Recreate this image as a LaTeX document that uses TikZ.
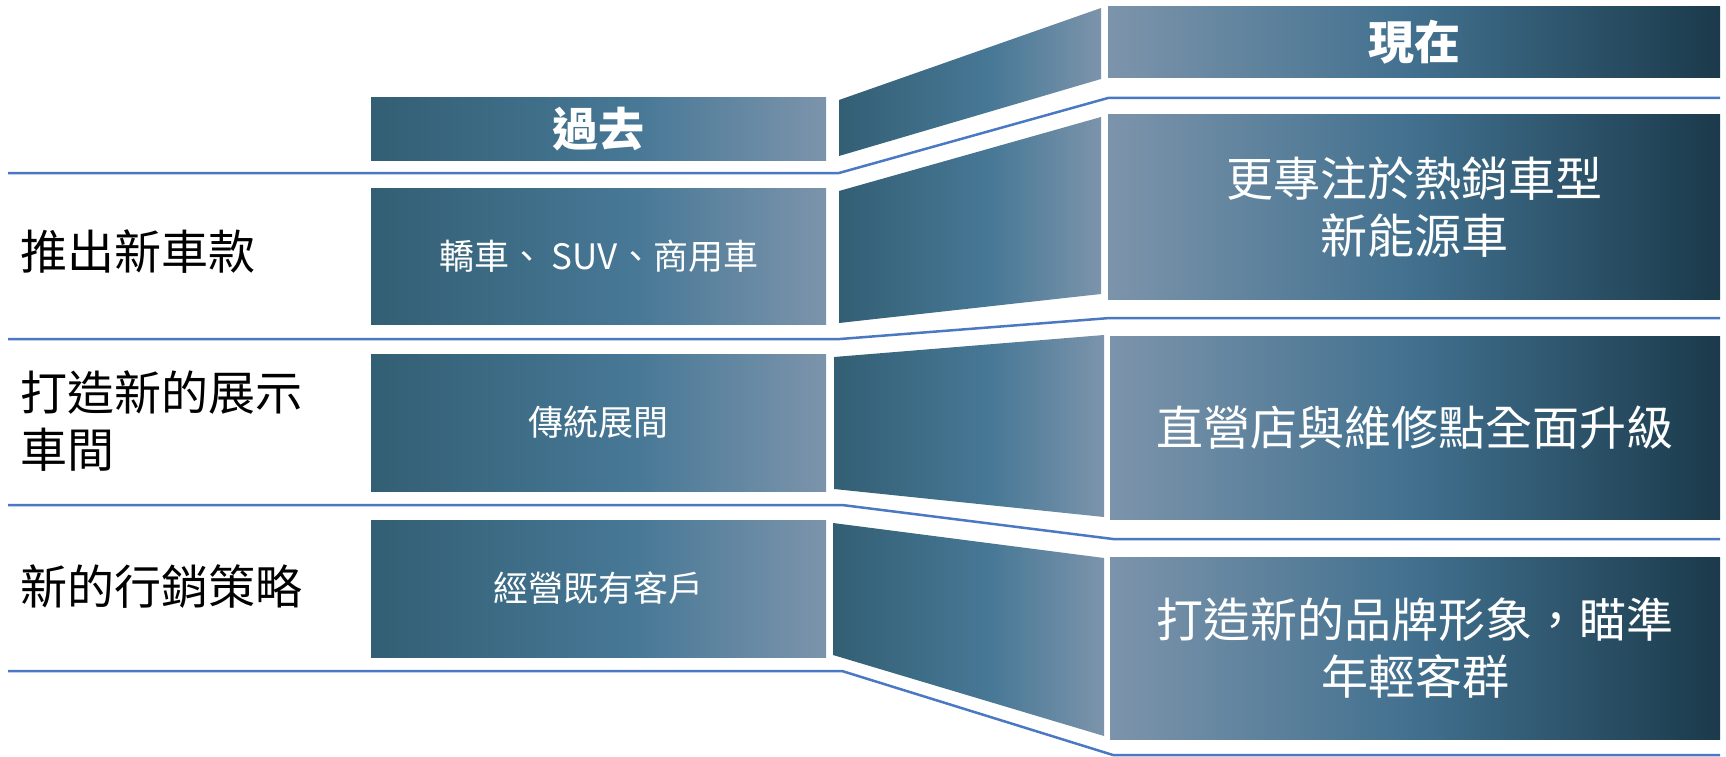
\documentclass[tikz,border=0pt]{standalone}
\usepackage{fontspec}
\setmainfont{Noto Sans CJK TC}
\newfontfamily\cjk{Noto Sans CJK TC}
\definecolor{pdark}{HTML}{335F74}
\definecolor{pmid}{HTML}{477896}
\definecolor{plight}{HTML}{7C94AB}
\definecolor{nmid}{HTML}{41708E}
\definecolor{ndark}{HTML}{1B3A4B}
\definecolor{lineblue}{HTML}{4A78C2}
\pgfdeclarehorizontalshading{pastshade}{100bp}{color(0bp)=(pdark); color(25bp)=(pdark); color(54bp)=(pmid); color(75bp)=(plight); color(100bp)=(plight)}
\pgfdeclarehorizontalshading{nowshade}{100bp}{color(0bp)=(plight); color(25bp)=(plight); color(50bp)=(nmid); color(75bp)=(ndark); color(100bp)=(ndark)}
\begin{document}
\begin{tikzpicture}[x=1pt,y=-1pt,
  pastfill/.style={shade, shading=pastshade},
  nowfill/.style={shade, shading=nowshade},
  box/.style={inner sep=0pt, outer sep=0pt, draw=none, text=white, align=center},
  headtext/.style={font=\cjk\bfseries\fontsize{46}{55}\selectfont},
  smalltext/.style={font=\cjk\fontsize{35}{42}\selectfont},
  bigtext/.style={font=\cjk\fontsize{47}{57}\selectfont},
  label/.style={anchor=west, align=left, text=black, inner sep=0pt, font=\cjk\fontsize{47}{57}\selectfont},
  divider/.style={draw=lineblue, line width=2.5pt}
]
\useasboundingbox (0,0) rectangle (1726,757);

% trapezoids
\shade[pastfill] (839,100) -- (1101,8) -- (1101,79) -- (839,156) -- cycle;
\shade[pastfill] (839,191) -- (1101,117) -- (1101,294) -- (839,323) -- cycle;
\shade[pastfill] (834,357) -- (1104,335) -- (1104,517) -- (834,489) -- cycle;
\shade[pastfill] (833,523) -- (1104,558) -- (1104,736) -- (833,655) -- cycle;

% past boxes
\node[box, pastfill, headtext, minimum width=455pt, minimum height=62pt] (past) at (598.5,129) {過去};
\node[box, pastfill, smalltext, minimum width=455pt, minimum height=136pt] (p1) at (598.5,256) {轎車、 SUV、商用車};
\node[box, pastfill, smalltext, minimum width=455pt, minimum height=137pt] (p2) at (598.5,422.5) {傳統展間};
\node[box, pastfill, smalltext, minimum width=455pt, minimum height=137pt] (p3) at (598.5,588.5) {經營既有客戶};

% now boxes
\node[box, nowfill, headtext, minimum width=612pt, minimum height=71pt] (now) at (1414,42.5) {現在};
\node[box, nowfill, bigtext, minimum width=612pt, minimum height=184pt] (n1) at (1414,207) {更專注於熱銷車型\\新能源車};
\node[box, nowfill, bigtext, minimum width=610pt, minimum height=183pt] (n2) at (1415,427.5) {直營店與維修點全面升級};
\node[box, nowfill, bigtext, minimum width=610pt, minimum height=182pt] (n3) at (1415,648) {打造新的品牌形象，瞄準\\年輕客群};

% left labels
\node[label] (l1) at (20,252) {推出新車款};
\node[label] (l2) at (20,421.5) {打造新的展示\\車間};
\node[label] (l3) at (20,587) {新的行銷策略};

% dividers
\coordinate (a1) at (8,173); \coordinate (b1) at (839,173); \coordinate (c1) at (1108,98); \coordinate (d1) at (1720,98);
\coordinate (a2) at (8,339); \coordinate (b2) at (840,339); \coordinate (c2) at (1110,318); \coordinate (d2) at (1720,318);
\coordinate (a3) at (8,505); \coordinate (b3) at (842,505); \coordinate (c3) at (1113,539); \coordinate (d3) at (1720,539);
\coordinate (a4) at (8,671); \coordinate (b4) at (842,671); \coordinate (c4) at (1113,755); \coordinate (d4) at (1720,755);
\draw[divider] (a1) -- (b1) -- (c1) -- (d1);
\draw[divider] (a2) -- (b2) -- (c2) -- (d2);
\draw[divider] (a3) -- (b3) -- (c3) -- (d3);
\draw[divider] (a4) -- (b4) -- (c4) -- (d4);
\end{tikzpicture}
\end{document}
